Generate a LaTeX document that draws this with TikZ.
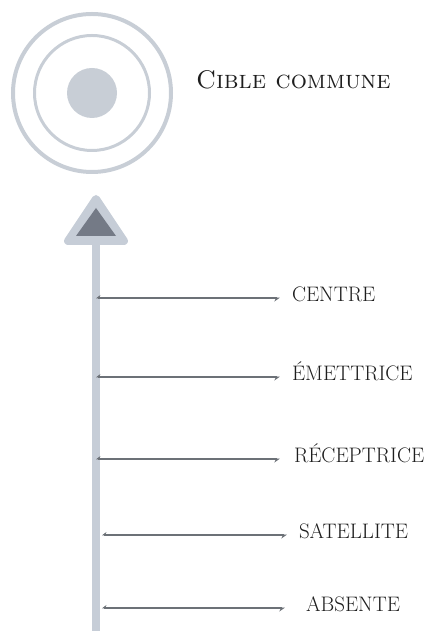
\documentclass[tikz,border=0pt]{standalone}
\usetikzlibrary{arrows.meta,positioning}

\definecolor{ringgrey}{HTML}{C8CED6}
\definecolor{bargrey}{HTML}{C6CDD7}
\definecolor{tipgrey}{HTML}{747A86}
\definecolor{linegrey}{HTML}{6C7177}
\definecolor{textgrey}{HTML}{1E1E1E}

\begin{document}
\begin{tikzpicture}[
    x=1pt, y=1pt,
    ring/.style={circle, draw=ringgrey, inner sep=0pt},
    levelname/.style={anchor=west, inner sep=0pt, outer xsep=12pt, text height=0.68em, text depth=0pt,
      font=\fontsize{21}{25}\selectfont, text=textgrey},
    pointer/.style={{Stealth[harpoon,swap,length=4pt,width=6pt]}-{Stealth[harpoon,swap,length=5pt,width=7pt]}, line width=1.6pt, draw=linegrey}
  ]
    \useasboundingbox (0,0) rectangle (427,631);

    % target
    \node[ring, line width=4pt, minimum size=158pt] (outer) at (92,538) {};
    \node[ring, line width=3pt, minimum size=115pt] (inner) at (outer.center) {};
    \node[circle, fill=ringgrey, inner sep=0pt, minimum size=50pt] (dot) at (outer.center) {};
    \node[anchor=base west, inner sep=0pt, font=\fontsize{25.5}{30}\selectfont, text=textgrey] (cible) at (196,542) {\textsc{Cible commune}};

    % arrow head and shaft
    \filldraw[bargrey, line width=8pt, line join=round] (96,432) -- (68,390) -- (124,390) -- cycle;
    \fill[tipgrey] (96,423) -- (76,395) -- (116,395) -- cycle;
    \coordinate (foot) at (96,390);
    \coordinate (bottom) at (96,0);
    \draw[bargrey, line width=8pt] (foot) -- (bottom);

    % levels
    \node[levelname] (centre) at (280,333) {CENTRE};
    \node[levelname] (emettrice) at (280,254) {ÉMETTRICE};
    \node[levelname] (receptrice) at (282,172) {RÉCEPTRICE};
    \node[levelname] (satellite) at (287,96) {SATELLITE};
    \node[levelname] (absente) at (294,23) {ABSENTE};

    \coordinate (c1) at (96,333);
    \coordinate (c2) at (96,254);
    \coordinate (c3) at (96,172);
    \coordinate (c4) at (102,96);
    \coordinate (c5) at (102,23);

    \draw[pointer] (c1) -- (centre);
    \draw[pointer] (c2) -- (emettrice);
    \draw[pointer, shorten >=2pt] (c3) -- (receptrice);
    \draw[pointer] (c4) -- (satellite);
    \draw[pointer, shorten >=9pt] (c5) -- (absente);
\end{tikzpicture}
\end{document}
